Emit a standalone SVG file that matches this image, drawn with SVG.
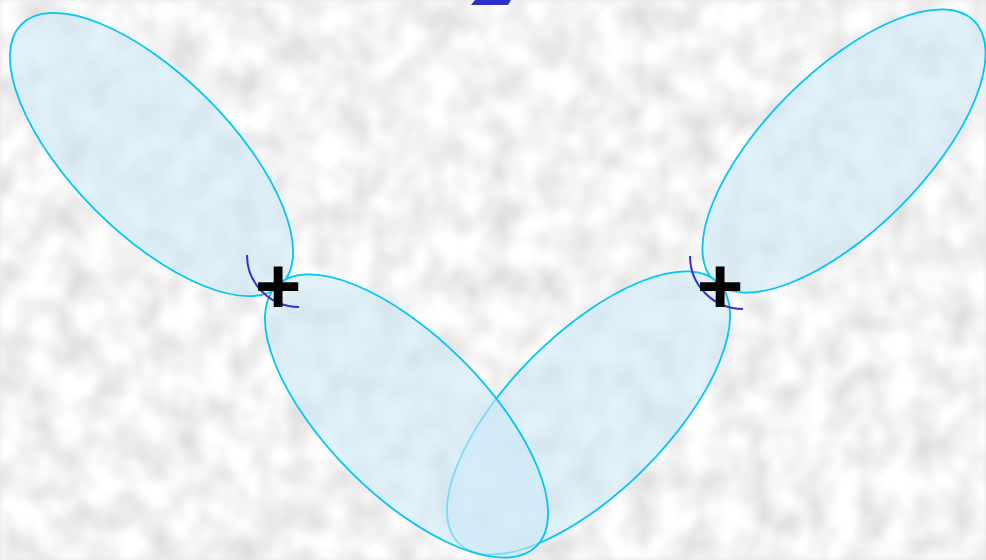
<svg xmlns="http://www.w3.org/2000/svg" width="986" height="560" viewBox="0 0 986 560">
<defs>
<filter id="noise" x="0" y="0" width="986" height="560" filterUnits="userSpaceOnUse">
<feTurbulence type="fractalNoise" baseFrequency="0.035 0.03" numOctaves="2" seed="11" result="t"/>
<feColorMatrix in="t" type="matrix" values="0.5 0 0 0 0.65  0.5 0 0 0 0.65  0.5 0 0 0 0.65  0 0 0 0 1" result="g"/>
<feGaussianBlur in="g" stdDeviation="2"/>
</filter>
</defs>
<style>
.petal{fill:#cdeaf8;fill-opacity:0.6;stroke:#00c6f6;stroke-width:1.8}
.arc{fill:none;stroke:#3b2fc6;stroke-width:2}
.plus{font-family:"Liberation Sans",Arial,sans-serif;font-weight:bold;font-size:80px;fill:#000;text-anchor:middle}
</style>
<rect x="0" y="0" width="986" height="560" fill="#e6e6e6"/>
<rect x="0" y="0" width="986" height="560" filter="url(#noise)"/>
<polygon points="475,0 511,0 508,5 471,5" fill="#3030c8"/>
<g id="petal-top-left"><ellipse class="petal" cx="151.5" cy="154.5" rx="184" ry="79" transform="rotate(45 151.5 154.5)"/></g>
<g id="petal-top-right"><ellipse class="petal" cx="844" cy="151" rx="184" ry="79" transform="rotate(-45 844 151)"/></g>
<g id="petal-bottom-right"><ellipse class="petal" cx="588.5" cy="413" rx="184" ry="79" transform="rotate(-45 588.5 413)"/></g>
<g id="petal-bottom-left"><ellipse class="petal" cx="406.5" cy="416" rx="184" ry="79" transform="rotate(45 406.5 416)"/></g>
<g id="connectors">
<path class="arc" d="M247,255 A52,52 0 0 0 299,307"/>
<path class="arc" d="M690,256 A53,53 0 0 0 743,309"/>
</g>
<g id="plus-left"><text class="plus" x="278" y="313">+</text></g>
<g id="plus-right"><text class="plus" x="720" y="313">+</text></g>
</svg>
